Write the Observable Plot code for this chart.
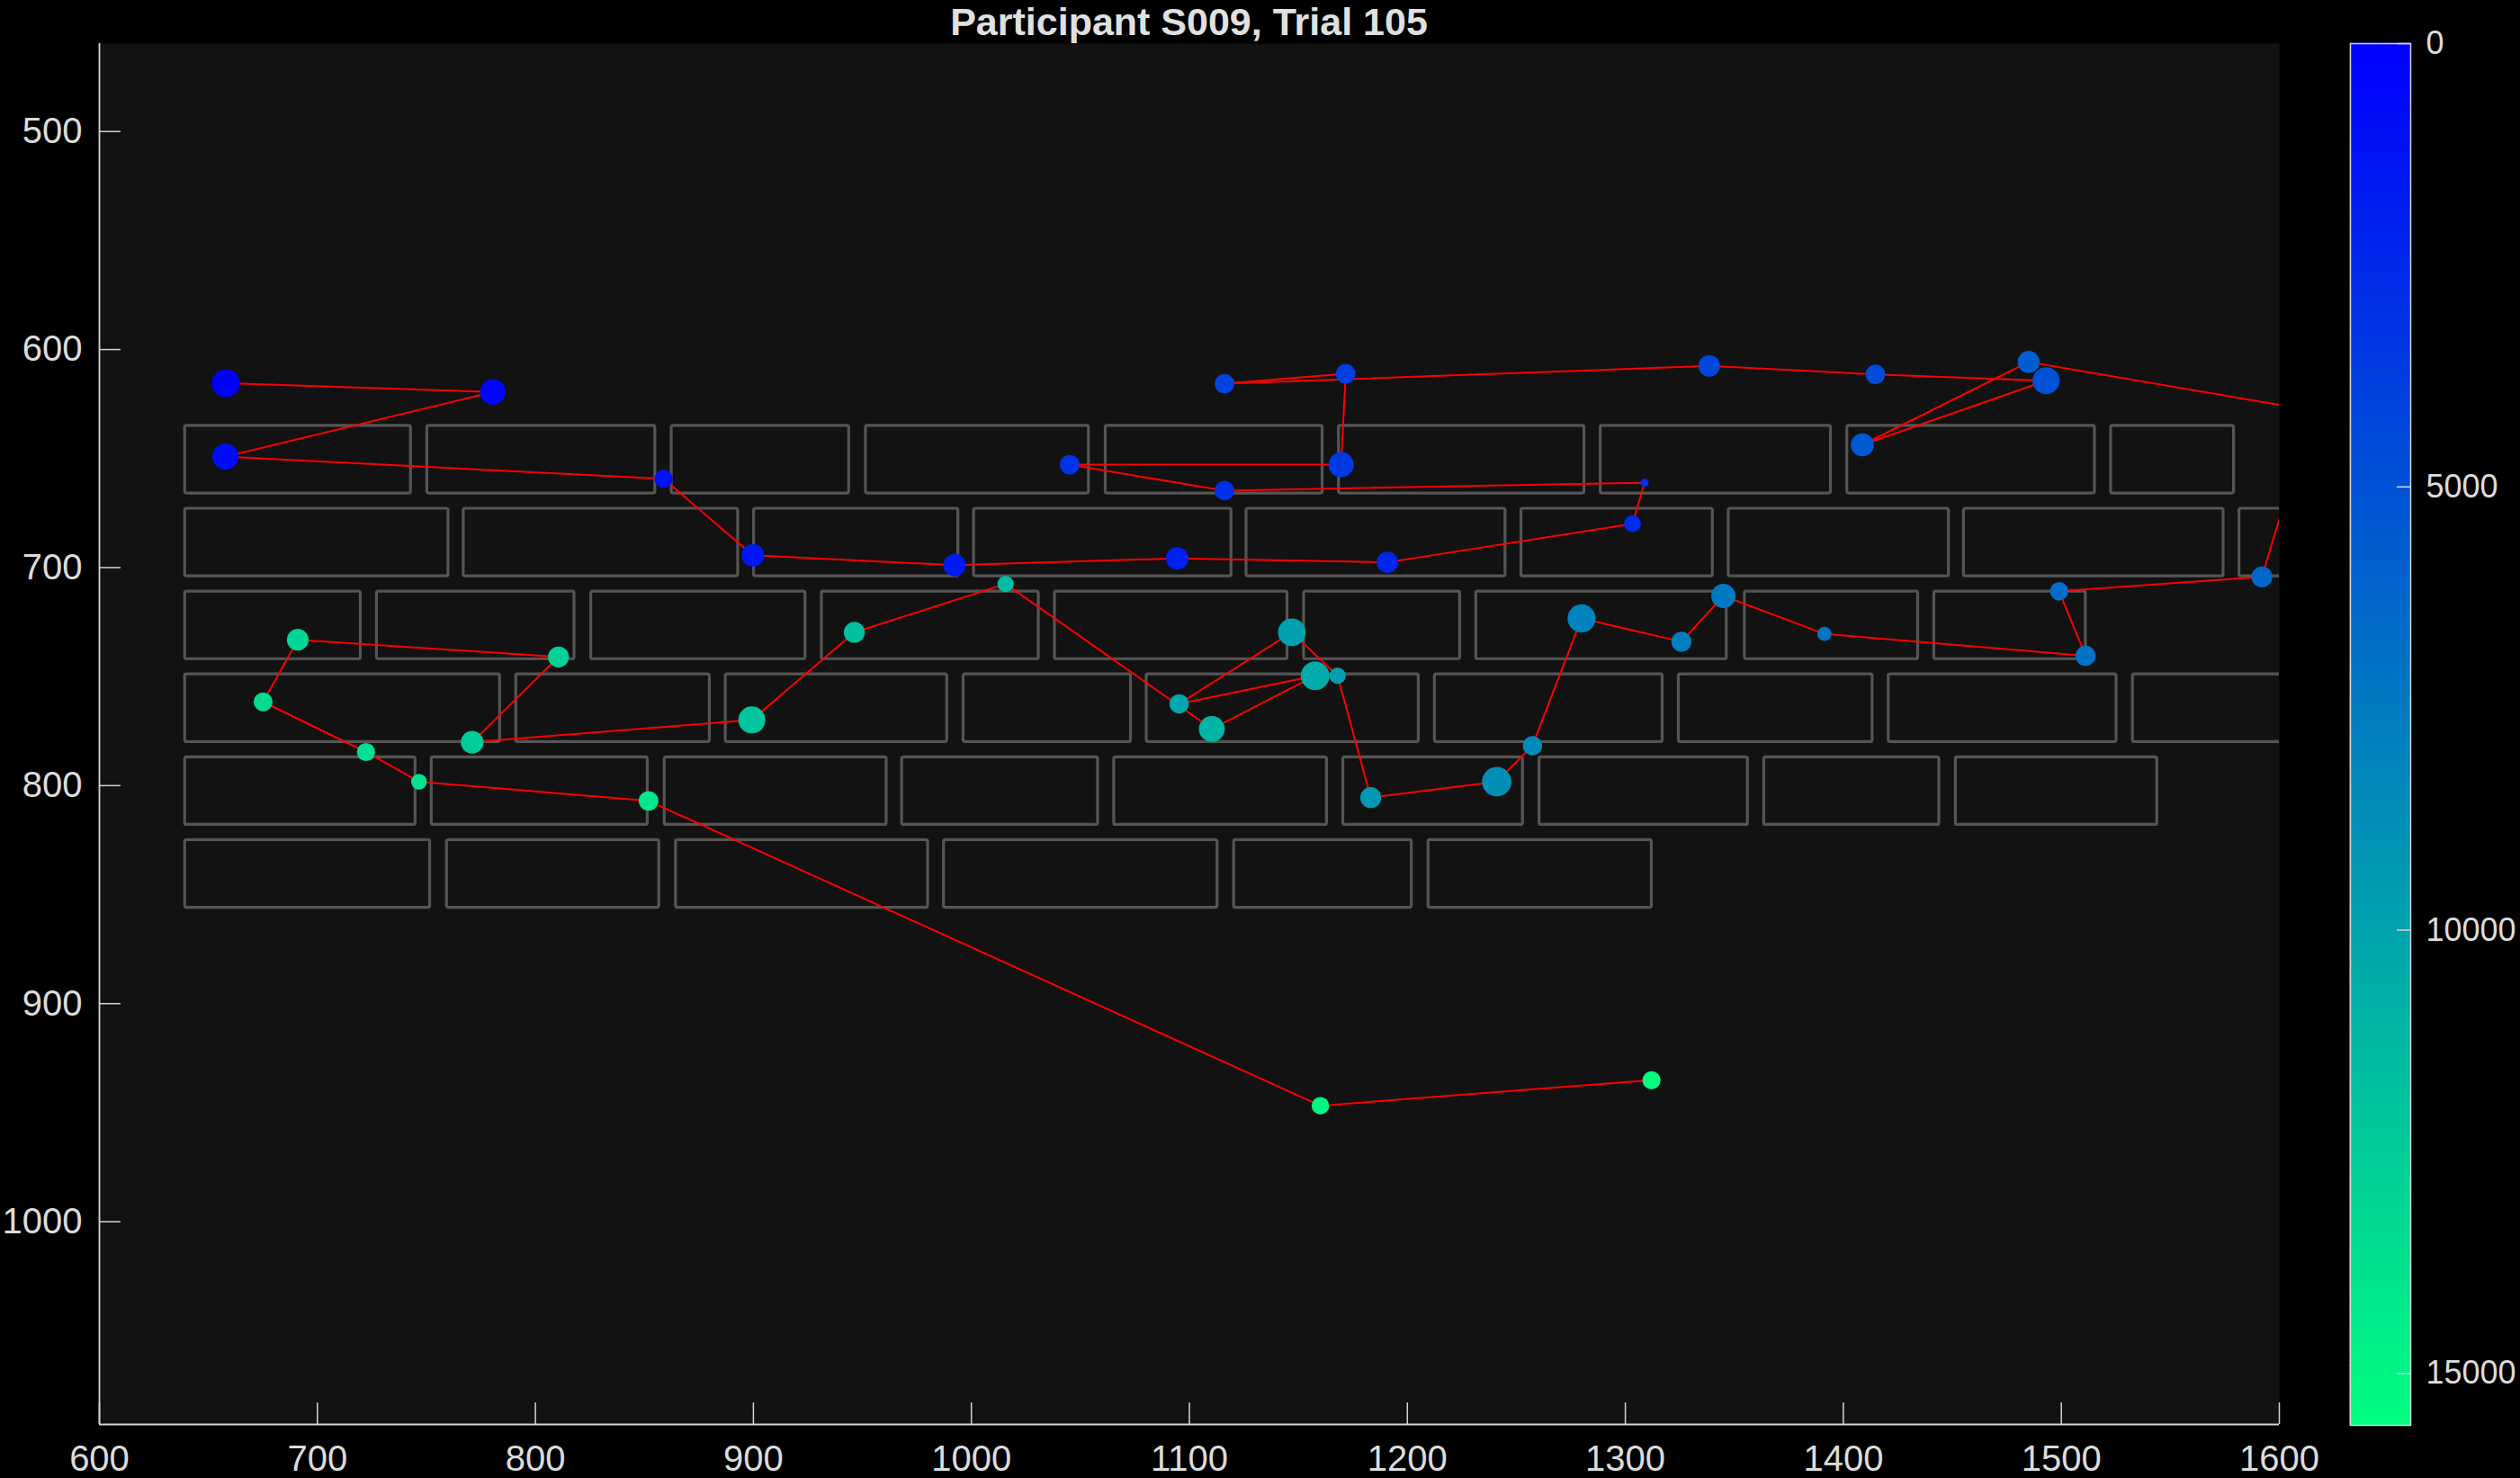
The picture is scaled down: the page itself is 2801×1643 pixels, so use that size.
<!DOCTYPE html>
<html><head><meta charset="utf-8">
<script src="https://cdn.jsdelivr.net/npm/d3@7"></script>
<script src="https://cdn.jsdelivr.net/npm/@observablehq/plot@0.6"></script>
<style>
html,body{margin:0;padding:0;background:#000;}
#wrap{position:relative;width:2801px;height:1643px;background:#000;overflow:hidden;font-family:"Liberation Sans",Arial,Helvetica,sans-serif;}
#title{position:absolute;left:110px;width:2423px;top:3px;text-align:center;font-weight:bold;font-size:43px;line-height:43px;color:#e0e0e0;}
#main,#cbar{position:absolute;top:0;}
#main{left:0;}
#cbar{left:2560px;}
</style></head><body>
<div id="wrap"><div id="title">Participant S009, Trial 105</div><div id="main"></div><div id="cbar"></div></div>
<script>
// Fixations in scanpath order (screen px), time since trial start (ms), fixation duration (ms)
const fixX = [658.0, 780.5, 657.8, 858.8, 899.8, 992.3, 1094.4, 1190.8, 1303.3, 1308.8,
  1116.1, 1045.1, 1169.6, 1171.7, 1116.1, 1338.5, 1414.7, 1493.0, 1408.7, 1485.0,
  1615.0, 1592.0, 1499.0, 1511.1, 1391.3, 1345.0, 1325.7, 1279.9, 1257.4, 1241.0,
  1183.2, 1168.0, 1147.0, 1095.3, 1157.7, 1110.3, 1015.7, 946.3, 899.3, 771.0,
  810.6, 691.0, 675.1, 722.3, 746.6, 851.9, 1160.1, 1312.0];
const fixY = [615.4, 619.5, 649.1, 659.3, 694.4, 698.9, 695.8, 697.6, 679.9, 661.1,
  664.7, 652.8, 652.8, 611.1, 615.7, 607.5, 611.4, 614.3, 643.7, 605.7,
  628.0, 704.3, 710.9, 740.5, 730.4, 713.0, 734.0, 723.3, 781.7, 798.2,
  805.5, 749.6, 729.7, 762.5, 749.6, 774.0, 707.5, 729.7, 769.9, 780.1,
  741.0, 733.1, 761.6, 784.6, 798.2, 807.0, 946.8, 935.1];
const fixTime = [0, 390, 750, 1090, 1320, 1640, 1960, 2290, 2580, 2770,
  2860, 3130, 3420, 3820, 4100, 4370, 4690, 4960, 5420, 5760,
  6080, 6380, 6680, 6920, 7200, 7370, 7740, 8020, 8510, 8780,
  9300, 9600, 9800, 10280, 10540, 11050, 11470, 11680, 11980, 12440,
  12780, 13090, 13410, 13670, 13900, 14090, 15000, 15586];
const fixDur = [400, 336, 350, 177, 266, 258, 260, 234, 146, 36,
  198, 198, 326, 198, 198, 240, 196, 377, 275, 250,
  220, 226, 175, 211, 103, 303, 205, 403, 191, 445,
  226, 139, 392, 191, 424, 345, 139, 226, 375, 266,
  226, 242, 184, 170, 127, 198, 158, 170];

// Word boxes: line tops/bottoms and [left, right] per line
const rowTop = [635, 673, 711, 749, 787, 825];
const rowBottom = [666, 704, 742, 780, 818, 856];
const row1 = [[639.3,742.9],[750.4,855.0],[862.5,943.9],[951.6,1053.9],[1061.6,1161.1],[1168.6,1281.2],[1288.7,1394.3],[1401.8,1515.4],[1522.8,1579.2]];
const row2 = [[639.3,760.1],[767.1,893.0],[900.3,994.0],[1001.2,1119.3],[1126.2,1245.0],[1252.3,1340.1],[1347.4,1448.4],[1455.3,1574.4],[1581.7,1660]];
const row3 = [[639.3,719.9],[727.3,817.9],[825.6,923.9],[931.4,1030.9],[1038.3,1145.0],[1152.6,1224.2],[1231.6,1346.5],[1354.8,1434.3],[1441.7,1511.2]];
const row4 = [[639.3,783.8],[791.2,880.0],[887.3,988.9],[996.4,1073.2],[1080.4,1205.2],[1212.6,1317.1],[1324.5,1413.4],[1420.8,1525.3],[1532.8,1640]];
const row5 = [[639.3,745.0],[752.4,851.5],[859.3,961.1],[968.2,1058.1],[1065.5,1163.1],[1170.6,1253.0],[1260.6,1356.2],[1363.7,1444.0],[1451.6,1544.0]];
const row6 = [[639.3,751.7],[759.4,856.8],[864.5,980.1],[987.4,1112.9],[1120.5,1202.0],[1209.7,1312.1]];

const xDomain = [600, 1600];
const yDomain = [459.7, 1093];
const xTicks = [600, 700, 800, 900, 1000, 1100, 1200, 1300, 1400, 1500, 1600];
const yTicks = [500, 600, 700, 800, 900, 1000];
const cbTicks = [0, 5000, 10000, 15000];
const timeMax = 15586;

const fix = fixX.map((x, i) => ({x, y: fixY[i], time: fixTime[i], dur: fixDur[i]}));
const rows = [row1, row2, row3, row4, row5, row6];
const boxes = rows.flatMap((r, k) => r.map(([x1, x2]) => ({x1, x2, y1: rowTop[k], y2: rowBottom[k]})));

const colorScale = {type: "linear", domain: [0, timeMax], range: ["#0000ff", "#00ff80"], interpolate: "rgb"};
const axisColor = "#d4d4d4";
const textColor = "#dcdcdc";
const font = '"Liberation Sans", Arial, Helvetica, sans-serif';

const W = 2801, H = 1643, mL = 110, mR = 268, mT = 48, mB = 60;
const plotW = W - mL - mR, plotH = H - mT - mB;

const main = Plot.plot({
  width: W, height: H,
  marginLeft: mL, marginRight: mR, marginTop: mT, marginBottom: mB,
  style: {background: "transparent", color: textColor, fontFamily: font, overflow: "visible"},
  x: {domain: xDomain},
  y: {domain: yDomain, reverse: true},
  color: colorScale,
  r: {type: "sqrt", domain: [0, 400], range: [0, 15.5]},
  marks: [
    Plot.frame({fill: "#121212", stroke: null}),
    Plot.rect(boxes, {x1: "x1", x2: "x2", y1: "y1", y2: "y2", fill: "none", stroke: "#555555", strokeWidth: 3.2, rx: 2, clip: true}),
    Plot.line(fix, {x: "x", y: "y", stroke: "#ff0000", strokeWidth: 2, clip: true}),
    Plot.dot(fix, {x: "x", y: "y", r: "dur", fill: "time", sort: null, clip: true}),
    Plot.ruleX([xDomain[0]], {stroke: axisColor, strokeWidth: 1.8}),
    Plot.ruleY([yDomain[1]], {stroke: axisColor, strokeWidth: 2.2}),
    Plot.tickX(xTicks, {x: d => d, stroke: axisColor, strokeWidth: 1.5, insetTop: plotH - 24}),
    Plot.tickY(yTicks, {y: d => d, stroke: axisColor, strokeWidth: 1.5, insetRight: plotW - 24}),
    Plot.axisX({ticks: xTicks, tickSize: 0, tickPadding: 23, fontSize: 40, fill: textColor, tickFormat: d => String(d), label: null}),
    Plot.axisY({ticks: yTicks, tickSize: 0, tickPadding: 19, fontSize: 40, fill: textColor, tickFormat: d => String(d), label: null})
  ]
});
document.getElementById("main").appendChild(main);

// Colorbar
const cbSteps = d3.range(300).map(i => ({y1: i * timeMax / 300, y2: (i + 1) * timeMax / 300, v: (i + 0.5) * timeMax / 300}));
const cbW = 241, cbL = 52, cbBarW = 67;
const cbar = Plot.plot({
  width: cbW, height: H,
  marginLeft: cbL, marginRight: cbW - cbL - cbBarW, marginTop: 48, marginBottom: H - 1584,
  style: {background: "transparent", color: textColor, fontFamily: font, overflow: "visible"},
  x: {domain: [0, 1], axis: null},
  y: {domain: [0, timeMax], reverse: true},
  color: colorScale,
  marks: [
    Plot.rect(cbSteps, {x1: d => 0, x2: d => 1, y1: "y1", y2: "y2", fill: "v", stroke: "v", strokeWidth: 1}),
    Plot.frame({stroke: axisColor, strokeWidth: 1.5}),
    Plot.tickY(cbTicks, {y: d => d, stroke: axisColor, strokeWidth: 1.5, insetLeft: cbBarW - 15}),
    Plot.axisY({anchor: "right", ticks: cbTicks, tickSize: 0, tickPadding: 17, fontSize: 36, fill: textColor, tickFormat: d => String(d), label: null})
  ]
});
document.getElementById("cbar").appendChild(cbar);
</script>
</body></html>
